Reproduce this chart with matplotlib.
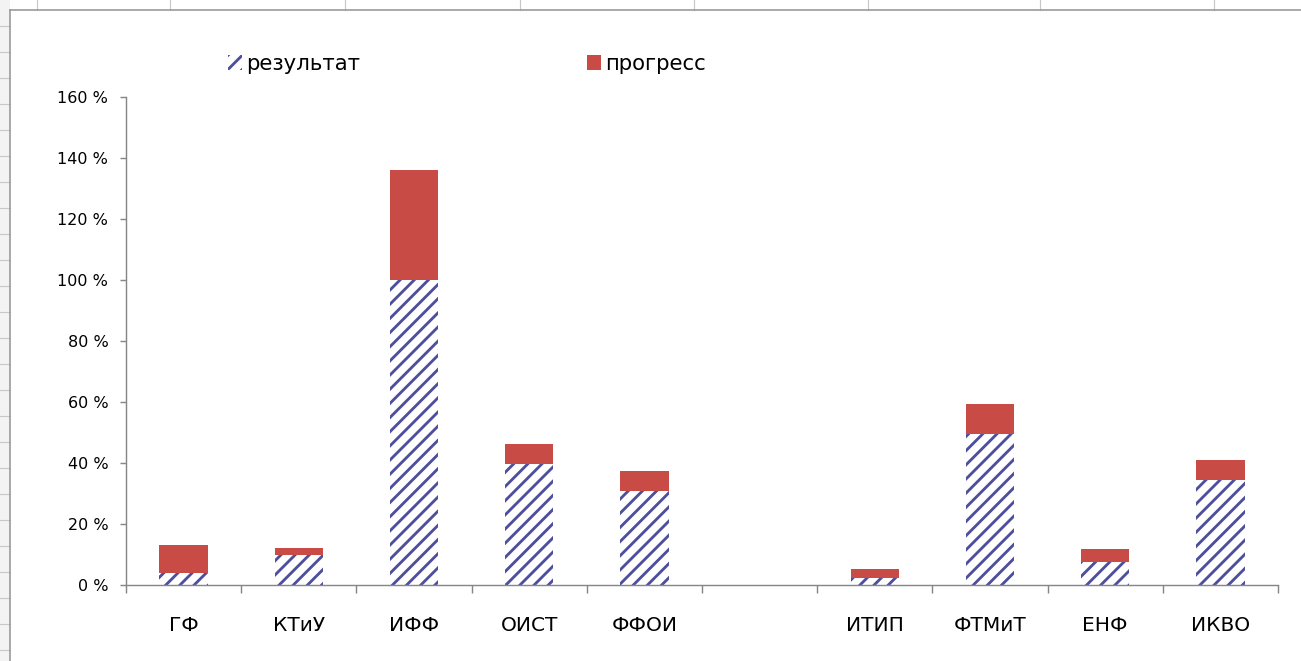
import matplotlib

matplotlib.use("Agg")
import matplotlib.pyplot as plt
from matplotlib.lines import Line2D
from matplotlib.patches import Rectangle
import numpy as np

# --- data -------------------------------------------------------------------
categories = ["ГФ", "КТиУ", "ИФФ", "ОИСТ", "ФФОИ", "", "ИТИП", "ФТМиТ", "ЕНФ", "ИКВО"]
result = [0.038, 0.10, 1.00, 0.396, 0.309, 0.0, 0.023, 0.494, 0.074, 0.344]
progress = [0.093, 0.02, 0.36, 0.065, 0.066, 0.0, 0.031, 0.098, 0.045, 0.065]
y_ticks = [0.0, 0.2, 0.4, 0.6, 0.8, 1.0, 1.2, 1.4, 1.6]
y_labels = ["0 %", "20 %", "40 %", "60 %", "80 %", "100 %", "120 %", "140 %", "160 %"]

W, H, DPI = 1301, 661, 85
RED = "#C84B45"
BLUE = "#4E4F9C"
GRID = "#C8C8C8"

plt.rcParams["font.family"] = ["DejaVu Sans"]
plt.rcParams["hatch.linewidth"] = 2.4

fig = plt.figure(figsize=(W / DPI, H / DPI), dpi=DPI)
fig.patch.set_facecolor("white")


def fx(x):
    return x / W


def fy(y):
    return 1 - y / H


# --- spreadsheet backdrop ----------------------------------------------------
fig.add_artist(Rectangle((0, 0), fx(10), 1, transform=fig.transFigure,
                         facecolor="#F3F3F3", edgecolor="none", zorder=0))
for cx in [37, 170, 345, 520, 694, 868, 1040, 1214]:
    fig.add_artist(Line2D([fx(cx), fx(cx)], [fy(0), fy(10)], transform=fig.transFigure,
                          color=GRID, lw=1))
for ry in range(26, H, 26):
    fig.add_artist(Line2D([0, fx(10)], [fy(ry), fy(ry)], transform=fig.transFigure,
                          color=GRID, lw=1))
# chart area border
fig.add_artist(Line2D([fx(10), 1], [fy(10), fy(10)], transform=fig.transFigure,
                      color="#9A9A9A", lw=1.4))
fig.add_artist(Line2D([fx(10), fx(10)], [fy(10), 0], transform=fig.transFigure,
                      color="#9A9A9A", lw=1.4))

# --- plot area ---------------------------------------------------------------
ax = fig.add_axes([fx(126), fy(585), (1278 - 126) / W, (585 - 97) / H])
x = np.arange(len(categories))
width = 0.42
b1 = ax.bar(x, result, width, color="white", edgecolor=BLUE, hatch="//", lw=0,
            label="результат")
b2 = ax.bar(x, progress, width, bottom=result, color=RED, lw=0, label="прогресс")

ax.set_xlim(-0.5, len(categories) - 0.5)
ax.set_ylim(0, 1.6)
ax.set_yticks(y_ticks)
ax.set_yticklabels(y_labels)
ax.set_xticks(x)
ax.set_xticklabels(categories)
ax.set_xticks(np.arange(len(categories) + 1) - 0.5, minor=True)

for side in ["top", "right"]:
    ax.spines[side].set_visible(False)
for side in ["left", "bottom"]:
    ax.spines[side].set_color("#868686")
    ax.spines[side].set_linewidth(1.2)

ax.tick_params(axis="y", length=5, width=1.2, color="#868686", pad=10,
               labelsize=13.5, labelcolor="black")
ax.tick_params(axis="x", which="major", length=0, pad=26, labelsize=17,
               labelcolor="black")
ax.tick_params(axis="x", which="minor", length=6.5, width=1.2, color="#868686")

leg = ax.legend(handles=[b1, b2], ncol=2, frameon=False, fontsize=18,
                loc="center left", bbox_to_anchor=(fx(228), fy(64)),
                bbox_transform=fig.transFigure, borderpad=0, borderaxespad=0,
                handlelength=0.65, handleheight=0.65, handletextpad=0.2,
                columnspacing=10.7)

fig.savefig("out.png", dpi=DPI, facecolor="white")
